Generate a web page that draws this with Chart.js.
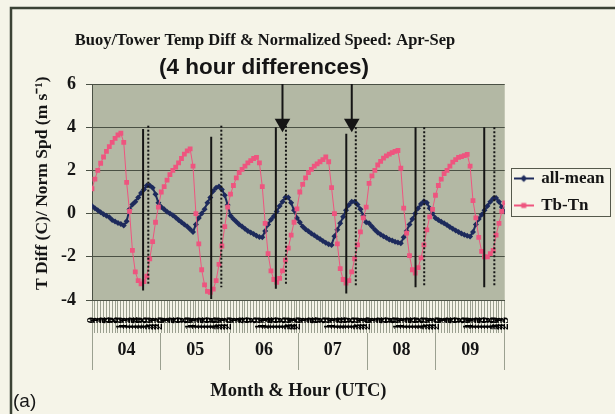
<!DOCTYPE html>
<html>
<head>
<meta charset="utf-8">
<script src="https://cdn.jsdelivr.net/npm/chart.js@4.4.0/dist/chart.umd.min.js"></script>
<style>
  html, body { margin: 0; padding: 0; background: #f5f4e8; }
  #wrap { width: 615px; height: 414px; }
</style>
</head>
<body>
<div id="wrap"><canvas id="chart" width="615" height="414"></canvas></div>
<script>
// Month categories and hourly tick labels
const months = ['04', '05', '06', '07', '08', '09'];
const hourLabels = ['0','1','2','3','4','5','6','7','8','9','10','11','12','13','14','15','16','17','18','19','20','21','22','23'];

// all-mean (normalized speed), 24 hourly values per month
const allMean = [
  0.35, 0.25, 0.15, 0.06, -0.03, -0.1, -0.17, -0.3, -0.37, -0.43, -0.48, -0.55, -0.35, 0.2, 0.42, 0.55, 0.75, 0.95, 1.12, 1.3, 1.3, 1.2, 0.9, 0.5,           // 04
  0.3, 0.2, 0.08, 0.0, -0.08, -0.18, -0.3, -0.4, -0.5, -0.6, -0.72, -0.85, -0.5, -0.2, 0.0, 0.2, 0.5, 0.75, 1.05, 1.2, 1.25, 1.12, 0.85, 0.4,              // 05
  -0.1, -0.25, -0.38, -0.5, -0.6, -0.7, -0.8, -0.88, -0.95, -1.02, -1.08, -1.1, -0.8, -0.5, -0.28, -0.12, 0.1, 0.35, 0.55, 0.75, 0.75, 0.5, 0.15, -0.2,  // 06
  -0.4, -0.6, -0.72, -0.82, -0.92, -1.0, -1.1, -1.18, -1.27, -1.35, -1.42, -1.45, -1.05, -0.75, -0.45, -0.15, 0.15, 0.4, 0.55, 0.55, 0.42, 0.2, -0.1, -0.4, // 07
  -0.45, -0.6, -0.75, -0.88, -0.97, -1.05, -1.12, -1.2, -1.25, -1.3, -1.34, -1.37, -1.1, -0.8, -0.5, -0.25, 0.0, 0.25, 0.45, 0.57, 0.5, 0.25, 0.0, -0.2,  // 08
  -0.3, -0.38, -0.45, -0.53, -0.62, -0.7, -0.78, -0.85, -0.92, -0.98, -1.03, -1.06, -0.85, -0.5, -0.25, -0.05, 0.15, 0.35, 0.55, 0.7, 0.72, 0.55, 0.3, 0.1 // 09
];

// Tb-Tn (buoy minus tower temperature difference)
const tbTn = [
  1.15, 1.6, 2.0, 2.33, 2.62, 2.88, 3.1, 3.3, 3.48, 3.64, 3.72, 3.3, 1.45, 0.1, -1.7, -2.7, -3.1, -3.25, -3.15, -2.9, -2.1, -1.3, -0.4, 0.3,     // 04
  1.0, 1.25, 1.55, 1.8, 2.0, 2.15, 2.35, 2.55, 2.75, 2.9, 3.0, 2.2, 0.0, -1.4, -2.6, -3.3, -3.6, -3.65, -3.5, -3.1, -2.35, -1.5, -0.6, 0.3,      // 05
  0.9, 1.3, 1.65, 1.9, 2.05, 2.2, 2.35, 2.45, 2.55, 2.6, 2.35, 1.25, -0.45, -1.85, -2.65, -3.05, -3.18, -3.0, -2.65, -2.15, -1.6, -1.0, -0.4, 0.22, // 06
  1.0, 1.35, 1.65, 1.9, 2.05, 2.2, 2.3, 2.4, 2.5, 2.62, 2.4, 1.2, 0.0, -1.4, -2.55, -3.05, -3.22, -3.1, -2.7, -2.1, -1.45, -0.85, -0.2, 0.3,     // 07
  1.4, 1.75, 2.0, 2.25, 2.42, 2.57, 2.67, 2.75, 2.82, 2.88, 2.92, 2.1, 0.25, -0.9, -1.95, -2.6, -2.75, -2.5, -2.05, -1.45, -0.75, -0.15, 0.2, 0.85, // 08
  1.3, 1.6, 1.85, 2.0, 2.2, 2.38, 2.5, 2.6, 2.64, 2.68, 2.74, 2.2, 0.6, -0.2, -1.1, -1.75, -2.0, -2.0, -1.85, -1.7, -1.0, -0.45, 0.1, 0.5        // 09
];

// Vertical markers (position in hour index, top / bottom values)
const solidX = [17.7, 41.3, 63.7, 88.1, 112.1, 135.9];
const solidTop = [3.92, 3.56, 4.0, 3.7, 4.0, 4.0];
const solidBottom = [-3.56, -3.95, -3.48, -3.7, -3.41, -3.41];
const dottedX = [19.5, 44.8, 67.2, 91.4, 115.1, 139.4];
const dottedTop = [4.07, 4.07, 4.07, 4.0, 4.0, 4.0];
const dottedBottom = [-3.33, -3.41, -3.33, -3.33, -3.33, -3.41];
const arrowX = [66.0, 90.0];
const arrowTip = [4.18, 4.18];

const NAVY = '#1d2a5c';
const PINK = '#ee557f';
const INK = '#151515';
const SERIF = 'Liberation Serif';
const SANS = 'Liberation Sans';

Chart.defaults.font.family = SERIF;
Chart.defaults.color = INK;

// little legend icons: line with marker in the middle
function legendIcon(color, shape) {
  const c = document.createElement('canvas');
  c.width = 20; c.height = 12;
  const g = c.getContext('2d');
  g.strokeStyle = color; g.fillStyle = color; g.lineWidth = 2;
  g.beginPath(); g.moveTo(0, 6); g.lineTo(20, 6); g.stroke();
  g.beginPath();
  if (shape === 'diamond') {
    g.moveTo(10, 2.5); g.lineTo(13.5, 6); g.lineTo(10, 9.5); g.lineTo(6.5, 6);
  } else {
    g.rect(7.5, 3.5, 5, 5);
  }
  g.fill();
  return c;
}
const icons = { 'all-mean': legendIcon(NAVY, 'diamond'), 'Tb-Tn': legendIcon(PINK, 'square') };

const datasets = [
  {
    label: 'all-mean',
    data: allMean.map((v, i) => ({ x: i, y: v })),
    borderColor: NAVY, backgroundColor: NAVY, borderWidth: 2,
    pointStyle: 'rectRot', pointRadius: 3, pointBorderWidth: 0,
    order: 2
  },
  {
    label: 'Tb-Tn',
    data: tbTn.map((v, i) => ({ x: i, y: v })),
    borderColor: PINK, backgroundColor: PINK, borderWidth: 1,
    pointStyle: 'rect', pointRadius: 3.4, pointBorderWidth: 0,
    order: 1
  }
];

solidX.forEach((x, i) => {
  datasets.push({
    data: [{ x: x, y: solidTop[i] }, { x: x, y: solidBottom[i] }],
    borderColor: INK, borderWidth: 2, pointRadius: 0, order: 0
  });
});
dottedX.forEach((x, i) => {
  datasets.push({
    data: [{ x: x, y: dottedTop[i] }, { x: x, y: dottedBottom[i] }],
    borderColor: INK, borderWidth: 2, borderDash: [2, 2], pointRadius: 0, order: 0
  });
});
arrowX.forEach((x, i) => {
  datasets.push({
    data: [{ x: x, y: 6 }, { x: x, y: arrowTip[i] }],
    borderColor: INK, borderWidth: 2, backgroundColor: INK,
    pointStyle: 'triangle', rotation: 180, pointRadius: [0, 9], pointBorderWidth: 0,
    clip: false, order: 0
  });
});

// background, frame, titles, legend box
const decor = {
  id: 'decor',
  beforeDraw(chart) {
    const { ctx, chartArea: a } = chart;
    ctx.save();
    ctx.fillStyle = '#f5f4e8';
    ctx.fillRect(0, 0, chart.width, chart.height);
    ctx.fillStyle = '#b3b8a4';
    ctx.fillRect(a.left, a.top, a.right - a.left, a.bottom - a.top);
    ctx.restore();
  },
  afterDraw(chart) {
    const ctx = chart.ctx;
    ctx.save();
    // frame
    ctx.strokeStyle = '#3b4234';
    ctx.lineWidth = 2.5;
    ctx.beginPath();
    ctx.moveTo(11, 414); ctx.lineTo(11, 8); ctx.lineTo(615, 8);
    ctx.stroke();
    // titles
    ctx.fillStyle = INK;
    ctx.textAlign = 'center';
    ctx.textBaseline = 'middle';
    ctx.font = 'bold 16.5px "' + SERIF + '"';
    ctx.fillText('Buoy/Tower Temp Diff & Normalized Speed: Apr-Sep', 265, 41);
    ctx.font = 'bold 22.5px "' + SANS + '"';
    ctx.fillText('(4 hour differences)', 264, 68);
    ctx.textAlign = 'left';
    ctx.font = '19px "' + SANS + '"';
    ctx.fillText('(a)', 13, 402);
    // legend border
    const boxes = chart.legend.legendHitBoxes;
    if (boxes && boxes.length) {
      const l = Math.min(...boxes.map(b => b.left)) - 4;
      const r = Math.max(...boxes.map(b => b.left + b.width)) + 5;
      const t = Math.min(...boxes.map(b => b.top)) - 2;
      const btm = Math.max(...boxes.map(b => b.top + b.height)) + 2;
      ctx.strokeStyle = '#55594c';
      ctx.lineWidth = 1;
      ctx.strokeRect(Math.round(l) + 0.5, Math.round(t) + 0.5, Math.round(r - l), Math.round(btm - t));
    }
    ctx.restore();
  }
};

const bold = size => ({ family: SERIF, size: size, weight: 'bold' });

new Chart(document.getElementById('chart'), {
  type: 'line',
  data: { datasets: datasets },
  plugins: [decor],
  options: {
    responsive: false,
    devicePixelRatio: 1,
    animation: false,
    layout: { padding: { top: 84, left: 12, right: 0.5, bottom: 14 } },
    plugins: {
      tooltip: { enabled: false },
      title: { display: false },
      legend: {
        position: 'right',
        fullSize: false,
        labels: {
          usePointStyle: true,
          pointStyleWidth: 18,
          padding: 10,
          color: INK,
          font: bold(17),
          generateLabels: chart => Chart.defaults.plugins.legend.labels.generateLabels(chart)
            .map(l => Object.assign(l, { pointStyle: icons[l.text] || l.pointStyle })),
          filter: item => item.text === 'all-mean' || item.text === 'Tb-Tn',
          sort: (a, b) => a.datasetIndex - b.datasetIndex
        }
      }
    },
    scales: {
      x: {
        type: 'linear', position: 'bottom', min: 0, max: 143, weight: 0,
        afterFit: s => { s.height = 33; },
        grid: { drawOnChartArea: false, tickLength: 33, color: '#9ba090' },
        border: { display: true, color: '#4a5044' },
        ticks: {
          stepSize: 1, autoSkip: false, minRotation: 90, maxRotation: 90, padding: -16,
          font: bold(13), color: '#000',
          callback: v => hourLabels[v % 24]
        }
      },
      x2: {
        type: 'category', position: 'bottom', labels: months, offset: true, weight: 1,
        afterFit: s => { s.height = 67; },
        grid: { offset: true, drawOnChartArea: false, tickLength: 37, color: '#9ba090' },
        border: { display: false },
        ticks: { padding: -30, font: bold(18), color: INK },
        title: { display: true, text: 'Month & Hour (UTC)', padding: { top: 0, bottom: -2 }, font: bold(18.5), color: INK }
      },
      y: {
        min: -4, max: 6,
        afterFit: s => { s.width = 80; },
        grid: { color: '#4a5044', tickLength: 6 },
        border: { color: '#4a5044' },
        ticks: { stepSize: 2, padding: 10, font: bold(18), color: INK },
        title: { display: true, text: '\u2002\u2002T Diff (C)/ Norm Spd (m s⁻¹)', padding: { top: 20, bottom: 0 }, font: bold(17.5), color: INK }
      }
    }
  }
});
</script>
</body>
</html>
